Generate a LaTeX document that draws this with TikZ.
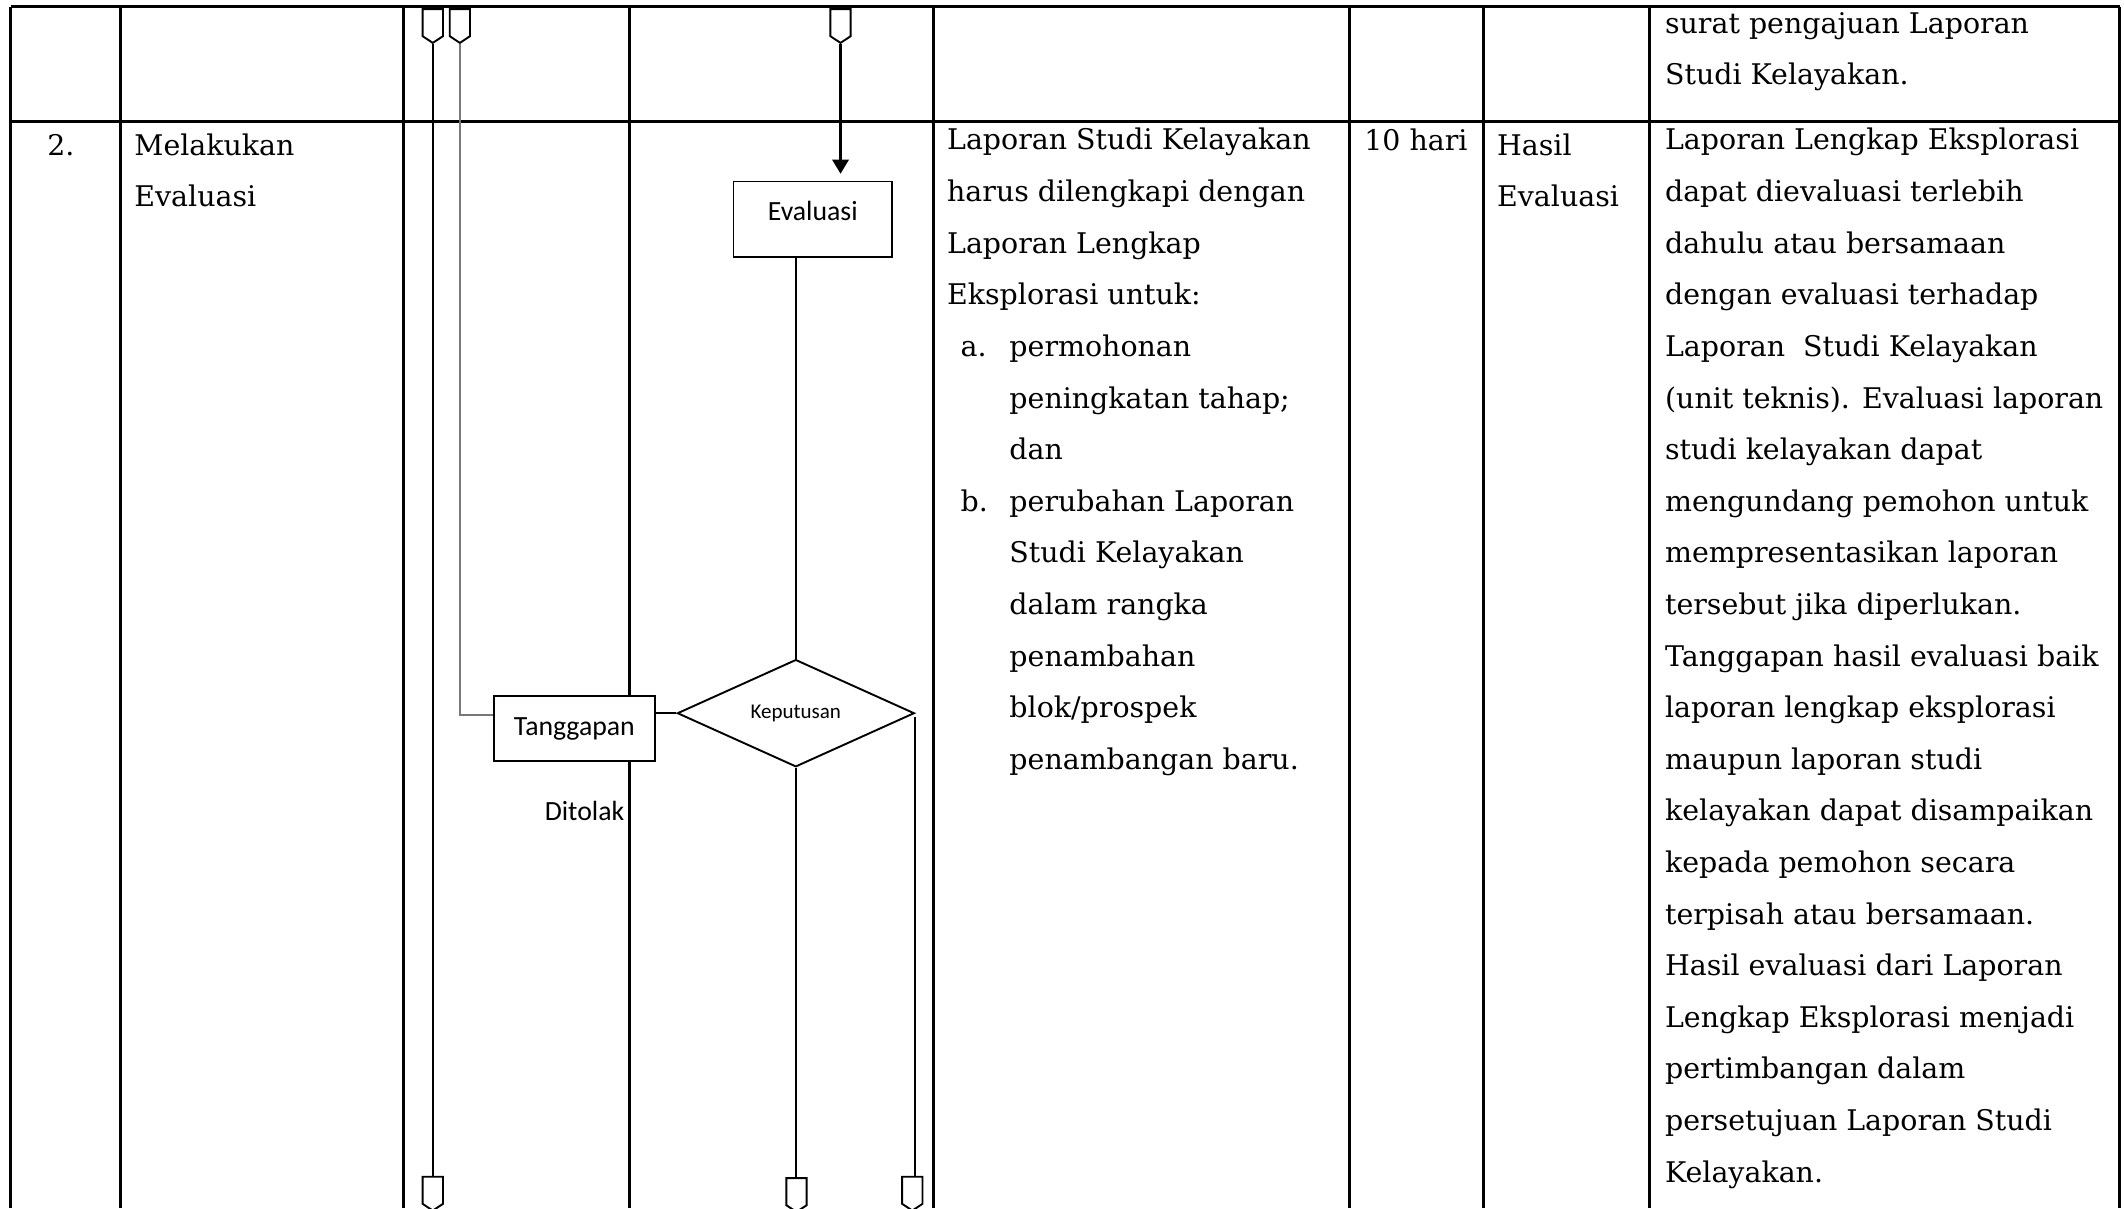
\documentclass[tikz,border=0pt]{standalone}
\usepackage{fontspec}
\setmainfont{DejaVu Serif}
\newfontfamily\flowfont{Carlito}
\usetikzlibrary{shapes.geometric,shapes.symbols,arrows.meta,calc}
\definecolor{linkgray}{RGB}{120,120,120}

\begin{document}
\begin{tikzpicture}[x=1pt,y=-1pt,
  grid/.style={line width=2.2pt},
  flow/.style={line width=1.4pt},
  cell/.style={anchor=base west,inner sep=0,font=\fontsize{21}{25}\selectfont},
  box/.style={draw,line width=1.4pt,fill=white,inner sep=0,
    font=\flowfont\fontsize{20.5}{24}\selectfont},
  offpage/.style={draw,line width=1.4pt,fill=white,shape=signal,
    signal to=south,signal from=nowhere,signal pointer angle=113,
    minimum width=15pt,minimum height=20pt,inner sep=0,anchor=north},
]
\useasboundingbox (0,0) rectangle (1568,892);

% table rules
\draw[grid] (8,5) -- (1565,5);
\draw[grid] (8,90) -- (1565,90);
\foreach \cx in {8,89,298,465,689,996,1095,1218,1565}
  \draw[grid] (\cx,5) -- (\cx,892);

% column 1 and 2
\node[anchor=base,inner sep=0,font=\fontsize{21}{25}\selectfont] (no) at (45,114.5) {2.};
\node[cell] (keg1) at (99,114.5) {Melakukan};
\node[cell] (keg2) at (99,152.6) {Evaluasi};

% column 5: requirements
\foreach [count=\i] \t in {Laporan Studi Kelayakan,harus dilengkapi dengan,Laporan Lengkap,Eksplorasi untuk:}
  \node[cell] (syarat\i) at (699,{110.7+38.1*(\i-1)}) {\t};
\node[cell] (itema) at (709,{110.7+38.1*4}) {a.};
\node[cell] (itemb) at (709,{110.7+38.1*7}) {b.};
\foreach [count=\i] \t in {permohonan,peningkatan tahap;,dan,perubahan Laporan,Studi Kelayakan,dalam rangka,penambahan,blok/prospek,penambangan baru.}
  \node[cell] (butir\i) at (745,{110.7+38.1*(\i+3)}) {\t};

% columns 6 and 7
\node[cell] (waktu) at (1007,111) {10 hari};
\node[cell] (out1) at (1105,114.5) {Hasil};
\node[cell] (out2) at (1105,152.6) {Evaluasi};

% column 8
\node[cell] (ket0a) at (1229,24.5) {surat pengajuan Laporan};
\node[cell] (ket0b) at (1229,62.6) {Studi Kelayakan.};
\foreach [count=\i] \t in {Laporan Lengkap Eksplorasi,dapat dievaluasi terlebih,dahulu atau bersamaan,dengan evaluasi terhadap,Laporan~ Studi Kelayakan,(unit teknis). Evaluasi laporan,studi kelayakan dapat,mengundang pemohon untuk,mempresentasikan laporan,tersebut jika diperlukan.,Tanggapan hasil evaluasi baik,laporan lengkap eksplorasi,maupun laporan studi,kelayakan dapat disampaikan,kepada pemohon secara,terpisah atau bersamaan.,Hasil evaluasi dari Laporan,Lengkap Eksplorasi menjadi,pertimbangan dalam,persetujuan Laporan Studi,Kelayakan.}
  \node[cell] (ket\i) at (1229,{110.7+38.1*(\i-1)}) {\t};

% flowchart symbols
\node[offpage] (c1) at (319.5,6) {};
\node[offpage] (c2) at (339.5,6) {};
\node[offpage] (c3) at (620.5,6) {};
\node[offpage] (c4) at (319.5,868) {};
\node[offpage] (c5) at (588,869) {};
\node[offpage] (c6) at (673.5,868) {};

\node[box,minimum width=117pt,minimum height=56pt,text depth=12pt] (eval) at (600,162) {Evaluasi};
\node[box,minimum width=119pt,minimum height=48pt] (tang) at (424,538) {Tanggapan};
\node[draw,diamond,line width=1.4pt,fill=white,minimum width=175pt,minimum height=75pt,
  inner sep=0,font=\flowfont\fontsize{15.5}{18}\selectfont] (dec) at (587.5,526.5) {Keputusan};
\node[anchor=east,inner sep=0,font=\flowfont\fontsize{20.5}{24}\selectfont] (ditolak) at (461,599) {Ditolak};

% connectors
\draw[line width=2.1pt,-{Triangle[width=12pt,length=10.5pt]},shorten >=5pt] (c3.south) -- (c3.south |- eval.north);
\draw[flow] (dec.north |- eval.south) -- (dec.north);
\draw[flow] (c1.south) -- (c4.north);
\draw[flow,linkgray] (c2.south) |- ([yshift=10pt]tang.west);
\draw[flow] (dec.west) -- (dec.west -| tang.east);
\draw[flow] (dec.south) -- (dec.south |- c5.north);
\draw[flow] ([yshift=-3pt]dec.east) -- (dec.east |- c6.north);
\end{tikzpicture}
\end{document}
